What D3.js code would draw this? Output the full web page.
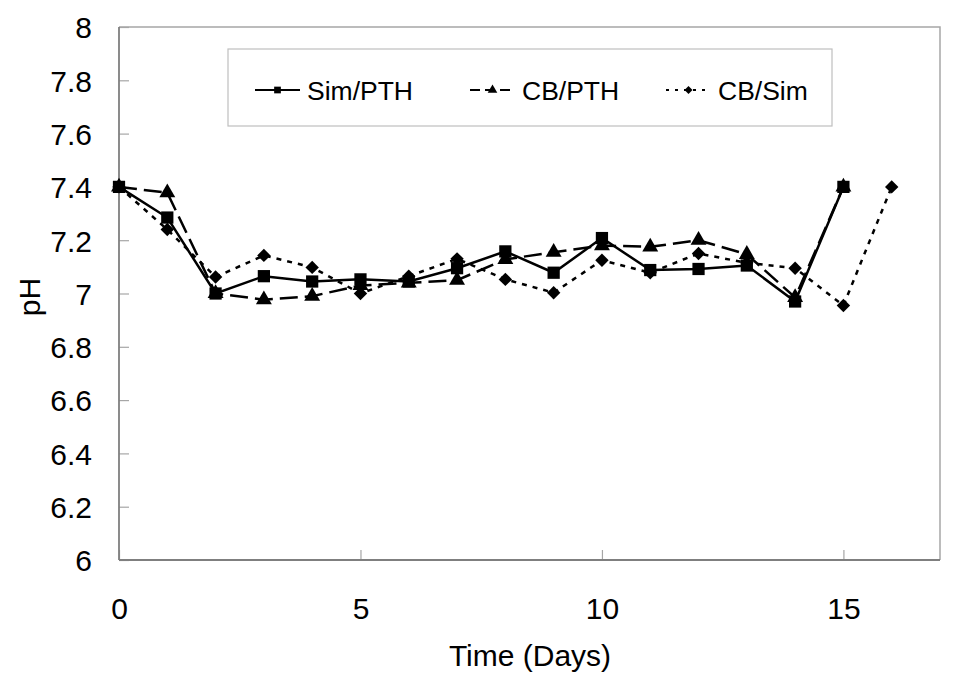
<!DOCTYPE html>
<html>
<head>
<meta charset="utf-8">
<script src="https://cdn.jsdelivr.net/npm/d3@7"></script>
<style>
  html, body { margin: 0; padding: 0; background: #fff; }
  svg { display: block; font-family: "Liberation Sans", Arial, sans-serif; }
</style>
</head>
<body>
<svg id="chart" width="964" height="684"></svg>
<script>
// ---- data ----
const daysA = [0,1,2,3,4,5,6,7,8,9,10,11,12,13,14,15];
const daysB = [0,1,2,3,4,5,6,7,8,9,10,11,12,13,14,15,16];
const simPTH = [7.40,7.285,7.00,7.065,7.045,7.053,7.045,7.095,7.158,7.078,7.208,7.088,7.092,7.105,6.97,7.40];
const cbPTH  = [7.40,7.378,7.00,6.977,6.99,7.03,7.04,7.05,7.128,7.155,7.18,7.175,7.20,7.147,6.985,7.40];
const cbSim  = [7.40,7.24,7.062,7.143,7.098,7.00,7.065,7.13,7.053,7.003,7.125,7.078,7.15,7.115,7.095,6.955,7.40];
const xTicks = [0,5,10,15];
const yTicks = [6,6.2,6.4,6.6,6.8,7,7.2,7.4,7.6,7.8,8];
const yTickLabels = ["6","6.2","6.4","6.6","6.8","7","7.2","7.4","7.6","7.8","8"];
const seriesNames = ["Sim/PTH","CB/PTH","CB/Sim"];

const svg = d3.select("#chart");
const L = 119, R = 940, T = 27, B = 560;
const x = d3.scaleLinear().domain([0,17]).range([L,R]);
const y = d3.scaleLinear().domain([6,8]).range([B,T]);

// plot frame (top/right)
svg.append("path")
  .attr("d", `M${L},${T}H${R}V${B}`)
  .attr("fill","none").attr("stroke","#a6a6a6").attr("stroke-width",1.5);

// y axis
const yAxis = svg.append("g").attr("transform",`translate(${L},0)`)
  .call(d3.axisRight(y).tickValues(yTicks).tickSize(10)
        .tickFormat((d,i)=>yTickLabels[i]));
yAxis.select(".domain").remove();
yAxis.selectAll(".tick line").attr("stroke","#a6a6a6").attr("stroke-width",1.2);
yAxis.selectAll(".tick text")
  .attr("x",-27).attr("text-anchor","end").attr("dy","0.36em")
  .attr("font-size",30).attr("fill","#000");

// x axis
const xAxis = svg.append("g").attr("transform",`translate(0,${B})`)
  .call(d3.axisTop(x).tickValues(xTicks).tickSize(10).tickFormat(d3.format("d")));
xAxis.select(".domain").remove();
xAxis.selectAll(".tick line").attr("stroke","#a6a6a6").attr("stroke-width",1.2);
xAxis.selectAll(".tick text")
  .attr("y",48).attr("dy","0.36em")
  .attr("font-size",30).attr("fill","#000");

// axis lines
svg.append("line").attr("x1",L).attr("x2",L).attr("y1",T).attr("y2",B)
  .attr("stroke","#7f7f7f").attr("stroke-width",1.8);
svg.append("line").attr("x1",L).attr("x2",R).attr("y1",B).attr("y2",B)
  .attr("stroke","#7f7f7f").attr("stroke-width",1.8);

// axis titles
svg.append("text").attr("x",530).attr("y",666).attr("text-anchor","middle")
  .attr("font-size",30).text("Time (Days)");
svg.append("text").attr("transform","translate(40,297) rotate(-90)")
  .attr("text-anchor","middle").attr("font-size",30).text("pH");

// series
const series = [
  {name: seriesNames[0], xs: daysA, ys: simPTH, dash: null, sym: d3.symbolSquare, size: 150, rot: 0},
  {name: seriesNames[1], xs: daysA, ys: cbPTH, dash: "18,7", sym: d3.symbolTriangle, size: 110, rot: 0},
  {name: seriesNames[2], xs: daysB, ys: cbSim, dash: "5,6", sym: d3.symbolSquare, size: 90, rot: 45}
];

const line = d3.line().x(d=>x(d[0])).y(d=>y(d[1]));
series.forEach(s => {
  const pts = s.xs.map((d,i)=>[d, s.ys[i]]);
  svg.append("path").datum(pts).attr("d", line)
    .attr("fill","none").attr("stroke","#000").attr("stroke-width",2.5)
    .attr("stroke-dasharray", s.dash);
  svg.append("g").selectAll("path").data(pts).join("path")
    .attr("transform", d=>`translate(${x(d[0])},${y(d[1])}) rotate(${s.rot})`)
    .attr("d", d3.symbol().type(s.sym).size(s.size))
    .attr("fill","#000");
});

// legend
svg.append("rect").attr("x",228).attr("y",49).attr("width",604).attr("height",77)
  .attr("fill","#fff").attr("stroke","#bfbfbf").attr("stroke-width",1.2);
const legTextX = [307, 522, 718];
const legSizes = [45, 40, 32];
series.forEach((s,i) => {
  const tx = legTextX[i], ly = 90;
  svg.append("line").attr("x1",tx-52).attr("x2",tx-7).attr("y1",ly).attr("y2",ly)
    .attr("stroke","#000").attr("stroke-width",2).attr("stroke-dasharray", s.dash ? (i===1?"10,5":"3,6") : null);
  svg.append("path").attr("transform",`translate(${tx-29.5},${ly}) rotate(${s.rot})`)
    .attr("d", d3.symbol().type(s.sym).size(legSizes[i])).attr("fill","#000");
  svg.append("text").attr("x",tx).attr("y",ly).attr("dy","0.36em")
    .attr("font-size",26.5).text(s.name);
});
</script>
</body>
</html>
